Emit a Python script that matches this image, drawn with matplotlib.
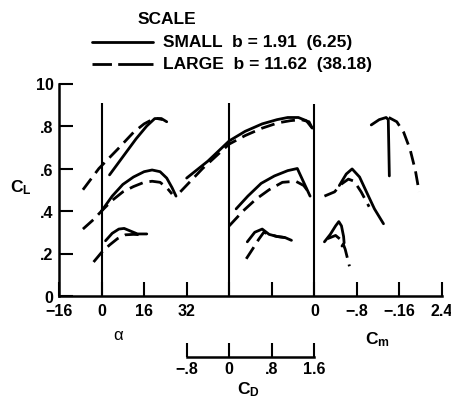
#script for the scale-effect chart: C_L against alpha, C_D and C_m

import numpy as np
import matplotlib
matplotlib.use("Agg")
import matplotlib.pyplot as plt
from matplotlib.lines import Line2D

plt.rcParams.update({
    "font.family": "Liberation Sans",
    "font.weight": "bold",
    "mathtext.fontset": "custom",
    "mathtext.rm": "Liberation Sans:bold",
    "mathtext.it": "Liberation Sans:bold",
    "mathtext.bf": "Liberation Sans:bold",
    "lines.scale_dashes": False,
})

# lift vs angle of attack
alpha_top_small = [3, 8, 13, 17, 20, 22.5, 24.5]
cl_top_small = [0.57, 0.655, 0.74, 0.80, 0.835, 0.835, 0.82]
alpha_top_large = [-7, -1, 6, 12, 16, 19, 21, 23]
cl_top_large = [0.50, 0.60, 0.69, 0.77, 0.81, 0.83, 0.835, 0.83]
alpha_mid_small = [0, 4, 8, 12, 16, 19, 22, 24.5, 26.5, 28]
cl_mid_small = [0.40, 0.47, 0.525, 0.56, 0.585, 0.593, 0.585, 0.555, 0.51, 0.47]
alpha_mid_large = [-7, -3, 0, 4, 8, 12, 16, 19, 22, 24.5, 26.5]
cl_mid_large = [0.315, 0.36, 0.40, 0.45, 0.49, 0.515, 0.535, 0.54, 0.535, 0.51, 0.48]
alpha_low_small = [1.5, 4, 6.5, 8.5, 11, 13.5, 17]
cl_low_small = [0.26, 0.295, 0.315, 0.318, 0.305, 0.292, 0.292]
alpha_low_large = [-3, 0, 3, 6, 9, 12, 15]
cl_low_large = [0.16, 0.205, 0.24, 0.27, 0.288, 0.29, 0.288]

# lift vs drag
cd_top_small = [-0.8, -0.4, 0, 0.3, 0.62, 0.9, 1.1, 1.3, 1.45, 1.56]
cl_cd_top_small = [0.555, 0.635, 0.73, 0.775, 0.81, 0.83, 0.84, 0.84, 0.825, 0.79]
cd_top_large = [-0.92, -0.5, 0, 0.3, 0.62, 0.92, 1.15, 1.35, 1.5, 1.58]
cl_cd_top_large = [0.49, 0.60, 0.715, 0.755, 0.79, 0.815, 0.825, 0.83, 0.82, 0.78]
cd_mid_small = [0.13, 0.35, 0.6, 0.85, 1.1, 1.28, 1.4, 1.52]
cl_cd_mid_small = [0.41, 0.47, 0.53, 0.565, 0.59, 0.60, 0.535, 0.47]
cd_mid_large = [0.0, 0.26, 0.5, 0.75, 1.0, 1.25, 1.4, 1.52]
cl_cd_mid_large = [0.33, 0.40, 0.455, 0.50, 0.535, 0.54, 0.52, 0.48]
cd_low_small = [0.34, 0.48, 0.62, 0.75, 0.9, 1.05, 1.17]
cl_cd_low_small = [0.255, 0.30, 0.315, 0.29, 0.28, 0.275, 0.262]
cd_low_large = [0.32, 0.45, 0.55, 0.65, 0.75, 0.9, 1.05]
cl_cd_low_large = [0.175, 0.225, 0.265, 0.30, 0.29, 0.28, 0.275]

# lift vs pitching moment
cm_top_small = [-0.141, -0.140, -0.139, -0.135, -0.122, -0.107]
cl_cm_top_small = [0.565, 0.70, 0.83, 0.84, 0.83, 0.805]
cm_top_large = [-0.14, -0.155, -0.168, -0.18, -0.19, -0.197]
cl_cm_top_large = [0.84, 0.82, 0.77, 0.69, 0.59, 0.49]
cm_mid_small = [-0.047, -0.06, -0.071, -0.085, -0.098, -0.113, -0.13]
cl_cm_mid_small = [0.52, 0.574, 0.598, 0.56, 0.49, 0.41, 0.34]
cm_mid_large = [-0.019, -0.038, -0.051, -0.064, -0.075, -0.088, -0.103]
cl_cm_mid_large = [0.47, 0.49, 0.527, 0.55, 0.54, 0.49, 0.42]
cm_low_small = [-0.019, -0.03, -0.04, -0.046, -0.051, -0.055, -0.056, -0.052]
cl_cm_low_small = [0.255, 0.29, 0.33, 0.35, 0.33, 0.28, 0.25, 0.235]
cm_low_large = [-0.025, -0.04, -0.052, -0.058, -0.062, -0.066]
cl_cm_low_large = [0.27, 0.285, 0.26, 0.22, 0.18, 0.14]

# axis ticks as printed
x_ticks = [-16, 0, 16, 32, 48, 64, 80, 96, 112, 128]
x_labels = ["\u221216", "0", "16", "32", "", "", "0", "\u2212.8", "\u2212.16", "2.4"]
y_ticks = [0, 0.2, 0.4, 0.6, 0.8, 1.0]
y_labels = ["0", ".2", ".4", ".6", ".8", "10"]
cd_ticks = [-0.8, 0, 0.8, 1.6]
cd_labels = ["\u2212.8", "0", ".8", "1.6"]

W, H = 452, 402
fig = plt.figure(figsize=(W / 100, H / 100), dpi=100)
left, bottom, width, height = 59 / W, 105 / H, 383 / W, 212.5 / H
ax = fig.add_axes([left, bottom, width, height])

lw = 2.0
dash = (10, 5)
solid_kw = dict(color="black", lw=lw, solid_capstyle="round")
dash_kw = dict(color="black", lw=lw, dashes=dash, dash_capstyle="butt")

ax.set_xlim(-16, 128)
ax.set_ylim(0, 1.0)
for s in ["top", "right"]:
    ax.spines[s].set_visible(False)
for s in ["left", "bottom"]:
    ax.spines[s].set_linewidth(1.8)
ax.set_xticks(x_ticks, x_labels)
ax.set_yticks(y_ticks, y_labels)
ax.tick_params(direction="in", length=10, width=1.5, labelsize=11.5, pad=4)
ax.tick_params(axis="x", pad=5)

ax.plot(alpha_top_small, cl_top_small, **solid_kw)
ax.plot(alpha_top_large, cl_top_large, **dash_kw)
ax.plot(alpha_mid_small, cl_mid_small, **solid_kw)
ax.plot(alpha_mid_large, cl_mid_large, **dash_kw)
ax.plot(alpha_low_small, cl_low_small, **solid_kw)
ax.plot(alpha_low_large, cl_low_large, **dash_kw)
ax.vlines(0, 0, 0.91, color="black", lw=1.5)

ax_cd = ax.twiny()
ax_cd.set_xlim(-3.2, 4.0)
ax_cd.axis("off")
ax_cd.plot(cd_top_small, cl_cd_top_small, **solid_kw)
ax_cd.plot(cd_top_large, cl_cd_top_large, **dash_kw)
ax_cd.plot(cd_mid_small, cl_cd_mid_small, **solid_kw)
ax_cd.plot(cd_mid_large, cl_cd_mid_large, **dash_kw)
ax_cd.plot(cd_low_small, cl_cd_low_small, **solid_kw)
ax_cd.plot(cd_low_large, cl_cd_low_large, **dash_kw)
ax_cd.vlines(0, 0, 0.91, color="black", lw=1.5)

ax_cm = ax.twiny()
ax_cm.set_xlim(0.48, -0.24)
ax_cm.axis("off")
ax_cm.plot(cm_top_small, cl_cm_top_small, **solid_kw)
ax_cm.plot(cm_top_large, cl_cm_top_large, **dash_kw)
ax_cm.plot(cm_mid_small, cl_cm_mid_small, **solid_kw)
ax_cm.plot(cm_mid_large, cl_cm_mid_large, **dash_kw)
ax_cm.plot(cm_low_small, cl_cm_low_small, **solid_kw)
ax_cm.plot(cm_low_large, cl_cm_low_large, **dash_kw)
ax_cm.vlines(0, 0, 0.905, color="black", lw=1.5)

# separate C_D scale below the main axis
ax_scale = fig.add_axes([left + width / 3, 44 / H, width / 3, 0.005])
ax_scale.set_xlim(-0.8, 1.6)
ax_scale.patch.set_visible(False)
for s in ["top", "right", "left"]:
    ax_scale.spines[s].set_visible(False)
ax_scale.spines["bottom"].set_linewidth(1.8)
ax_scale.set_yticks([])
ax_scale.set_xticks(cd_ticks, cd_labels)
ax_scale.tick_params(direction="in", length=10, width=1.5, labelsize=11.5, pad=3)

fig.text(21 / W, 1 - 188 / H, r"$\mathrm{C_L}$", fontsize=12.5, ha="center", va="center")
fig.text(118 / W, 1 - 335 / H, "\u03b1", fontsize=12, fontweight="normal",
         ha="center", va="center")
fig.text(377 / W, 1 - 340 / H, r"$\mathrm{C_m}$", fontsize=12.5, ha="center", va="center")
fig.text(248 / W, 1 - 390 / H, r"$\mathrm{C_D}$", fontsize=12.5, ha="center", va="center")

# legend block
fig.text(167 / W, 1 - 19 / H, "SCALE", fontsize=12.5, ha="center", va="center")
fig.add_artist(Line2D([92 / W, 153 / W], [1 - 43 / H] * 2, **solid_kw))
fig.add_artist(Line2D([92 / W, 153 / W], [1 - 65 / H] * 2, color="black", lw=lw,
                      dashes=(14, 4.5, 26, 10)))
fig.text(163 / W, 1 - 43 / H, "SMALL  b = 1.91  (6.25)", fontsize=12.5, ha="left", va="center")
fig.text(163 / W, 1 - 65 / H, "LARGE  b = 11.62  (38.18)", fontsize=12.5, ha="left", va="center")

fig.savefig("out.png", dpi=100)
